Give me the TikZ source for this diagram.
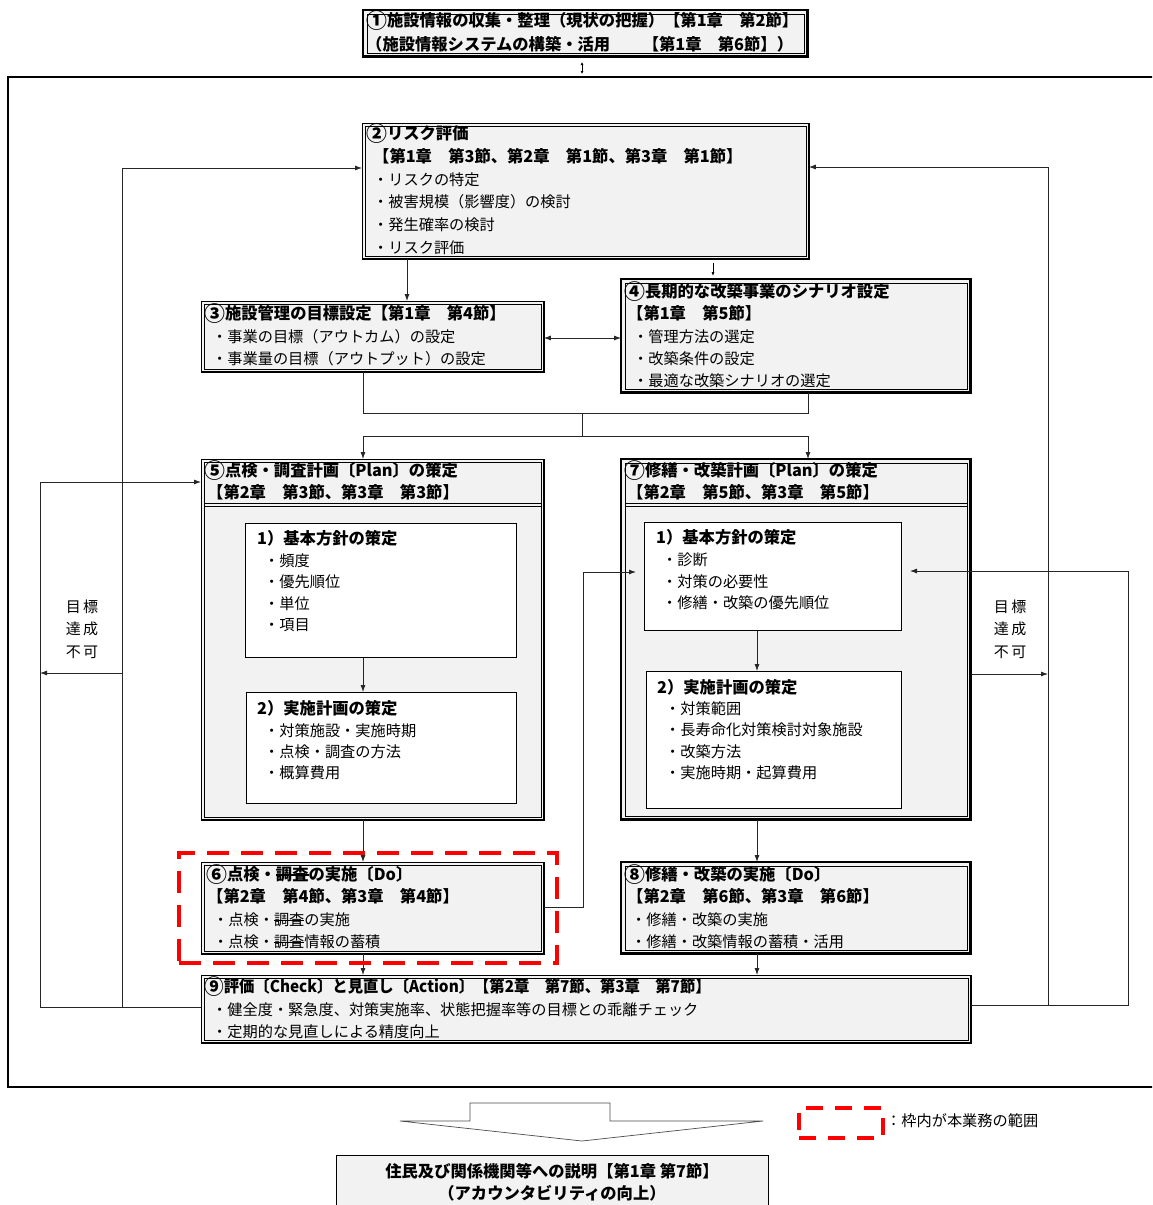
\documentclass[tikz,border=0pt]{standalone}
\usepackage{fontspec}
\setmainfont{Noto Sans CJK JP}
\usetikzlibrary{arrows.meta}
\definecolor{boxgray}{HTML}{F2F2F2}
\newcommand\strk[1]{\setbox0\hbox{#1}\rlap{\rule[0.33em]{\wd0}{0.07em}}\box0}
\newcommand\cnum[1]{\raisebox{-0.1em}{\scalebox{1.28}{#1}}}
\newcommand\boxA[1]{%
 \draw[line width=0.6pt] ([shift={(3pt,-3pt)}]#1.north west) rectangle ([shift={(-3pt,3pt)}]#1.south east);
 \draw[line width=2.6pt] (#1.north east) -- (#1.south east) -- (#1.south west);}
\newcommand\boxB[1]{%
 \draw[line width=0.6pt] ([shift={(4pt,-4pt)}]#1.north west) rectangle ([shift={(-4pt,4pt)}]#1.south east);
 \draw[line width=2.8pt] (#1.north west) rectangle (#1.south east);}
\begin{document}
\begin{tikzpicture}[x=1pt,y=-1pt,
  gbox/.style={draw, line width=0.8pt, fill=boxgray, inner sep=0, anchor=north west},
  wbox/.style={draw, line width=0.7pt, fill=white, inner sep=0, anchor=north west},
  hd/.style={font=\bfseries\fontsize{16.3}{19}\selectfont, anchor=base west, inner sep=0, yshift=-5.9pt},
  tx/.style={font=\fontsize{15.2}{18}\selectfont, anchor=base west, inner sep=0, yshift=-5.6pt},
  ln/.style={line width=0.8pt, draw=black!85},
  arr/.style={ln, -{Latex[length=7pt,width=5pt]}},
  sarr/.style={line width=0.6pt, -{Latex[length=4pt,width=3pt]}},
  redframe/.style={draw=red, line width=4pt, dash pattern=on 22pt off 12pt, inner sep=0, anchor=north west}
]
\useasboundingbox (0,0) rectangle (1152,1205);
\clip (0,0) rectangle (1152,1205);
\fill[white] (0,0) rectangle (1152,1205);

% outer frame
\draw[line width=1.6pt] (1154,77) -- (8,77) -- (8,1087) -- (1154,1087);

% boxes
\node[gbox, minimum width=444, minimum height=46] (b1) at (363,10) {};
\node[gbox, minimum width=446, minimum height=135] (b2) at (362,123) {};
\node[gbox, minimum width=342, minimum height=70] (b3) at (201,301) {};
\node[gbox, minimum width=349, minimum height=113] (b4) at (621,279) {};
\node[gbox, minimum width=342, minimum height=360] (b5) at (201,459) {};
\node[gbox, minimum width=349, minimum height=360] (b7) at (621,459) {};
\node[gbox, minimum width=342, minimum height=91] (b6) at (201,862) {};
\node[gbox, minimum width=349, minimum height=91] (b8) at (621,862) {};
\node[gbox, minimum width=769, minimum height=67] (b9) at (201,975) {};
\node[gbox, minimum width=432, minimum height=70] (b10) at (336,1155) {};
\node[wbox, minimum width=271, minimum height=134] (b5a) at (245,523) {};
\node[wbox, minimum width=270, minimum height=111] (b5b) at (246,692) {};
\node[wbox, minimum width=257, minimum height=108] (b7a) at (644,522) {};
\node[wbox, minimum width=255, minimum height=137] (b7b) at (646,671) {};

% header separators
\coordinate (hs1) at (0,503);
\coordinate (hs2) at (0,506);
\draw[line width=0.6pt] ([xshift=3pt]b5.west |- hs1) -- ([xshift=-3pt]b5.east |- hs1);
\draw[line width=0.6pt] ([xshift=3pt]b5.west |- hs2) -- ([xshift=-3pt]b5.east |- hs2);
\draw[line width=0.6pt] ([xshift=4pt]b7.west |- hs1) -- ([xshift=-4pt]b7.east |- hs1);
\draw[line width=0.6pt] ([xshift=4pt]b7.west |- hs2) -- ([xshift=-4pt]b7.east |- hs2);

% texts
\node[hd] (t1a) at (366,21) {\cnum{①}施設情報の収集・整理（現状の把握）【第1章　第2節】};
\node[hd] (t1b) at (366,45) {（施設情報システムの構築・活用　　【第1章　第6節】）};

\node[hd] (t2a) at (366,134) {\cnum{②}リスク評価};
\node[hd] (t2b) at (373,157) {【第1章　第3節、第2章　第1節、第3章　第1節】};
\node[tx] (t2c) at (373,180) {・リスクの特定};
\node[tx] (t2d) at (373,202) {・被害規模（影響度）の検討};
\node[tx] (t2e) at (373,225) {・発生確率の検討};
\node[tx] (t2f) at (373,248) {・リスク評価};

\node[hd] (t3a) at (204,314) {\cnum{③}施設管理の目標設定【第1章　第4節】};
\node[tx] (t3b) at (212,337) {・事業の目標（アウトカム）の設定};
\node[tx] (t3c) at (212,359) {・事業量の目標（アウトプット）の設定};

\node[hd] (t4a) at (624,292) {\cnum{④}長期的な改築事業のシナリオ設定};
\node[hd] (t4b) at (627,314) {【第1章　第5節】};
\node[tx] (t4c) at (633,337) {・管理方法の選定};
\node[tx] (t4d) at (633,359) {・改築条件の設定};
\node[tx] (t4e) at (633,381) {・最適な改築シナリオの選定};

\node[hd] (t5a) at (204,471) {\cnum{⑤}点検・調査計画〔Plan〕の策定};
\node[hd] (t5b) at (207,493) {【第2章　第3節、第3章　第3節】};
\node[hd] (t5c) at (257,539) {1）基本方針の策定};
\node[tx] (t5d) at (264,561) {・頻度};
\node[tx] (t5e) at (264,582) {・優先順位};
\node[tx] (t5f) at (264,604) {・単位};
\node[tx] (t5g) at (264,625) {・項目};
\node[hd] (t5h) at (257,709) {2）実施計画の策定};
\node[tx] (t5i) at (264,731) {・対策施設・実施時期};
\node[tx] (t5j) at (264,752) {・点検・調査の方法};
\node[tx] (t5k) at (264,773) {・概算費用};

\node[hd] (t7a) at (624,471) {\cnum{⑦}修繕・改築計画〔Plan〕の策定};
\node[hd] (t7b) at (627,493) {【第2章　第5節、第3章　第5節】};
\node[hd] (t7c) at (656,538) {1）基本方針の策定};
\node[tx] (t7d) at (662,560) {・診断};
\node[tx] (t7e) at (662,582) {・対策の必要性};
\node[tx] (t7f) at (662,603) {・修繕・改築の優先順位};
\node[hd] (t7g) at (657,688) {2）実施計画の策定};
\node[tx] (t7h) at (665,709) {・対策範囲};
\node[tx] (t7i) at (665,730) {・長寿命化対策検討対象施設};
\node[tx] (t7j) at (665,752) {・改築方法};
\node[tx] (t7k) at (665,773) {・実施時期・起算費用};

\node[hd] (t6a) at (206,875) {\cnum{⑥}点検・\strk{調査}の実施〔Do〕};
\node[hd] (t6b) at (207,897) {【第2章　第4節、第3章　第4節】};
\node[tx] (t6c) at (213,920) {・点検・\strk{調査}の実施};
\node[tx] (t6d) at (213,942) {・点検・\strk{調査}情報の蓄積};

\node[hd] (t8a) at (624,875) {\cnum{⑧}修繕・改築の実施〔Do〕};
\node[hd] (t8b) at (627,897) {【第2章　第6節、第3章　第6節】};
\node[tx] (t8c) at (631,920) {・修繕・改築の実施};
\node[tx] (t8d) at (631,942) {・修繕・改築情報の蓄積・活用};

\node[hd] (t9a) at (204,987) {\scalebox{0.94}[1]{\cnum{⑨}評価〔Check〕と見直し〔Action〕【第2章　第7節、第3章　第7節】}};
\node[tx] (t9b) at (212,1010) {・健全度・緊急度、対策実施率、状態把握率等の目標との乖離チェック};
\node[tx] (t9c) at (212,1032) {・定期的な見直しによる精度向上};

\node[font=\bfseries\fontsize{16.3}{19}\selectfont, anchor=base, inner sep=0] (t10a) at (552,1177) {住民及び関係機関等への説明【第1章 第7節】};
\node[font=\bfseries\fontsize{16.3}{19}\selectfont, anchor=base, inner sep=0] (t10b) at (552,1199) {（アカウンタビリティの向上）};

% box borders
\boxB{b1}
\boxA{b2}
\boxA{b3}
\boxB{b4}
\boxA{b5}
\boxB{b7}
\boxA{b6}
\boxB{b8}
\boxA{b9}
\draw[line width=0.8pt] (b10.south west) -- (b10.north west) -- (b10.north east) -- (b10.south east);

% side labels
\node[font=\fontsize{15}{22.5}\selectfont, align=center, inner sep=0] (lblL) at (82,629) {目\,標\\達\,成\\不\,可};
\node[font=\fontsize{15}{22.5}\selectfont, align=center, inner sep=0] (lblR) at (1010,629) {目\,標\\達\,成\\不\,可};

% top small double arrow
\coordinate (u1) at (582,62);
\coordinate (u2) at (582,74);
\draw[line width=0.6pt, {Latex[length=3pt,width=3pt]}-{Latex[length=3pt,width=3pt]}] (u1) -- (u2);

% connectors in the middle
\coordinate (c23) at (407,0);
\draw[arr] (b2.south -| c23) -- (b3.north -| c23);
\coordinate (c24) at (713,0);
\draw[sarr] ([yshift=-4pt]b2.south -| c24) -- ([yshift=3pt]b4.north -| c24);
\coordinate (c34) at (0,338);
\draw[ln, {Latex[length=7pt,width=5pt]}-{Latex[length=7pt,width=5pt]}] (b3.east |- c34) -- (b4.west |- c34);

\coordinate (j1) at (363,413);
\coordinate (j2) at (808,413);
\coordinate (j3) at (582,413);
\coordinate (j4) at (582,436);
\coordinate (j5) at (363,436);
\coordinate (j6) at (808,436);
\draw[ln] (b3.south -| j1) -- (j1) -- (j2) -- (b4.south -| j2);
\draw[ln] (j3) -- (j4);
\draw[ln] (j5) -- (j6);
\draw[arr] (j5) -- (b5.north -| j5);
\draw[arr] (j6) -- (b7.north -| j6);

\coordinate (k) at (757,0);
\draw[arr] (b5a.south -| j1) -- (b5b.north -| j1);
\draw[arr] (b7a.south -| k) -- (b7b.north -| k);
\draw[arr] (b5.south -| j1) -- (b6.north -| j1);
\draw[arr] (b6.south -| j1) -- (b9.north -| j1);
\draw[arr] (b7.south -| k) -- (b8.north -| k);
\draw[arr] (b8.south -| k) -- (b9.north -| k);

\coordinate (m1) at (583,907);
\coordinate (m2) at (583,572);
\coordinate (m3) at (636,572);
\draw[arr] (b6.east |- m1) -- (m1) -- (m2) -- (m3);

% left loop
\coordinate (L1) at (122,168);
\coordinate (L2) at (122,1007);
\coordinate (L3) at (40,1007);
\coordinate (L4) at (40,482);
\coordinate (L5) at (122,673);
\coordinate (L6) at (40,673);
\draw[arr] (L1) -- (L1 -| b2.west);
\draw[ln] (L1) -- (L2);
\draw[ln] (b9.west |- L3) -- (L3) -- (L4);
\draw[arr] (L4) -- (L4 -| b5.west);
\draw[arr] (L5) -- (L6);

% right loop
\coordinate (R1) at (1048,167);
\coordinate (R2) at (1048,1005);
\coordinate (R3) at (1128,1005);
\coordinate (R4) at (1128,571);
\coordinate (R5) at (910,571);
\coordinate (R6) at (1048,674);
\draw[arr] (R1) -- (R1 -| b2.east);
\draw[ln] (R1) -- (R2);
\draw[ln] (b9.east |- R3) -- (R3) -- (R4);
\draw[arr] (R4) -- (R5);
\draw[arr] (b7.east |- R6) -- (R6);

% red dashed scope frame
\node[redframe, minimum width=378, minimum height=110] (scope) at (177,851) {};

% block arrow
\draw[line width=0.7pt, draw=black!70, fill=white] (470,1103) -- (610,1103) -- (610,1121) -- (763,1121) -- (582,1141) -- (400,1121) -- (470,1121) -- cycle;

% legend
\node[draw=red, line width=3.5pt, dash pattern=on 17pt off 12pt, inner sep=0, anchor=north west, minimum width=84, minimum height=30] (leg) at (797,1106) {};
\node[font=\fontsize{15.2}{18}\selectfont, anchor=west, inner sep=0] (legt) at (886,1121) {：枠内が本業務の範囲};
\end{tikzpicture}
\end{document}
